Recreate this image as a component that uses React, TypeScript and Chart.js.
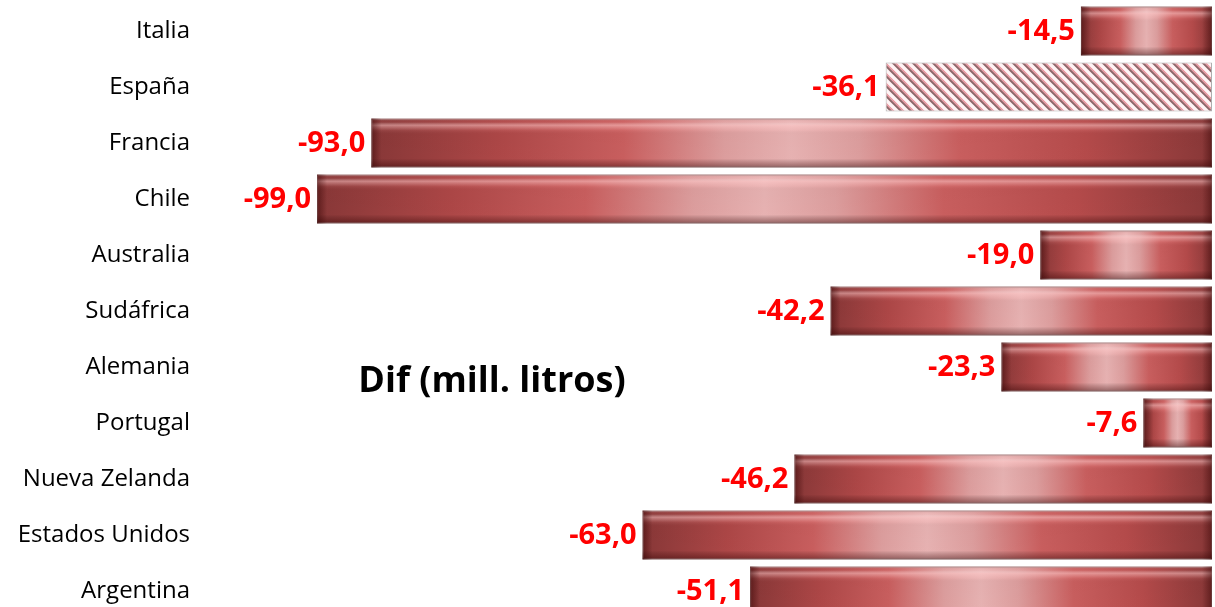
import React, { useEffect, useRef } from "react";
import { Chart, registerables } from "chart.js";

Chart.register(...registerables);

const categories = [
  "Italia",
  "España",
  "Francia",
  "Chile",
  "Australia",
  "Sudáfrica",
  "Alemania",
  "Portugal",
  "Nueva Zelanda",
  "Estados Unidos",
  "Argentina",
];
const values = [-14.5, -36.1, -93.0, -99.0, -19.0, -42.2, -23.3, -7.6, -46.2, -63.0, -51.1];
const hatchedIndex = [1];
const chartTitle = "Dif (mill. litros)";

const fmt = (v: number) => v.toFixed(1).replace(".", ",");

function makeHatch(): CanvasPattern | string {
  const c = document.createElement("canvas");
  const s = 10;
  c.width = s;
  c.height = s;
  const g = c.getContext("2d")!;
  g.fillStyle = "#fff4f5";
  g.fillRect(0, 0, s, s);
  g.lineWidth = 2;
  g.strokeStyle = "#8f6668";
  for (let k = -1; k <= 1; k++) {
    g.beginPath();
    g.moveTo(k * s - 1, -1);
    g.lineTo(k * s + s + 1, s + 1);
    g.stroke();
  }
  g.lineWidth = 1.4;
  g.strokeStyle = "#e8909a";
  for (let k = -1; k <= 1; k++) {
    g.beginPath();
    g.moveTo(k * s - 1 + 2.6, -1);
    g.lineTo(k * s + s + 1 + 2.6, s + 1);
    g.stroke();
  }
  const p = g.createPattern(c, "repeat");
  return p || "#f0c0c8";
}

export default function App() {
  const ref = useRef<HTMLCanvasElement | null>(null);

  useEffect(() => {
    document.body.style.margin = "0";
    const canvas = ref.current!;
    const hatch = makeHatch();

    const bevelPlugin = {
      id: "bevel",
      afterDatasetsDraw(chart: any) {
        const ctx = chart.ctx as CanvasRenderingContext2D;
        const meta = chart.getDatasetMeta(0);
        meta.data.forEach((el: any, i: number) => {
          const left = Math.min(el.x, el.base);
          const right = Math.max(el.x, el.base);
          const top = el.y - el.height / 2;
          const h = el.height;
          ctx.save();
          if (!hatchedIndex.includes(i)) {
            const vg = ctx.createLinearGradient(0, top, 0, top + h);
            vg.addColorStop(0, "rgba(90,20,20,0.3)");
            vg.addColorStop(0.07, "rgba(255,255,255,0.0)");
            vg.addColorStop(0.14, "rgba(255,205,205,0.5)");
            vg.addColorStop(0.24, "rgba(255,200,200,0.08)");
            vg.addColorStop(0.32, "rgba(0,0,0,0.03)");
            vg.addColorStop(0.82, "rgba(0,0,0,0.02)");
            vg.addColorStop(0.9, "rgba(40,0,0,0.22)");
            vg.addColorStop(1, "rgba(40,0,0,0.45)");
            ctx.fillStyle = vg;
            ctx.fillRect(left, top, right - left, h);
            const edge = Math.min(10, (right - left) / 4);
            const lg = ctx.createLinearGradient(left, 0, left + edge, 0);
            lg.addColorStop(0, "rgba(50,0,0,0.5)");
            lg.addColorStop(1, "rgba(50,0,0,0)");
            ctx.fillStyle = lg;
            ctx.fillRect(left, top, edge, h);
            const rg = ctx.createLinearGradient(right - edge, 0, right, 0);
            rg.addColorStop(0, "rgba(50,0,0,0)");
            rg.addColorStop(1, "rgba(50,0,0,0.45)");
            ctx.fillStyle = rg;
            ctx.fillRect(right - edge, top, edge, h);
          }
          ctx.restore();
        });
      },
    };

    const labelPlugin = {
      id: "valueLabels",
      afterDatasetsDraw(chart: any) {
        const ctx = chart.ctx as CanvasRenderingContext2D;
        const meta = chart.getDatasetMeta(0);
        ctx.save();
        ctx.font = "bold 29px 'Open Sans', sans-serif";
        ctx.fillStyle = "#ff0000";
        ctx.textAlign = "right";
        ctx.textBaseline = "middle";
        meta.data.forEach((el: any, i: number) => {
          const left = Math.min(el.x, el.base);
          ctx.fillText(fmt(values[i]), left - 6, el.y + 1);
        });
        ctx.font = "bold 36px 'Open Sans', sans-serif";
        ctx.fillStyle = "#000000";
        ctx.textAlign = "center";
        const yEl = meta.data[6];
        ctx.fillText(chartTitle, 492, yEl.y + 15);
        ctx.restore();
      },
    };

    const chart = new Chart(canvas, {
      type: "bar",
      data: {
        labels: categories,
        datasets: [
          {
            data: values,
            barPercentage: 0.875,
            categoryPercentage: 1,
            borderWidth: 1,
            borderColor: (c: any) =>
              hatchedIndex.includes(c.dataIndex) ? "rgba(120,120,120,0.6)" : "rgba(110,40,40,0.7)",
            borderSkipped: false,
            backgroundColor: (c: any) => {
              if (hatchedIndex.includes(c.dataIndex)) return hatch;
              const chartI = c.chart;
              const xs = chartI.scales && chartI.scales.x;
              if (!xs) return "#c05050";
              const v = values[c.dataIndex];
              const x0 = xs.getPixelForValue(v);
              const x1 = xs.getPixelForValue(0);
              if (!isFinite(x0) || !isFinite(x1) || x0 === x1) return "#c05050";
              const g = chartI.ctx.createLinearGradient(x0, 0, x1, 0);
              g.addColorStop(0, "#8a3838");
              g.addColorStop(0.15, "#b04848");
              g.addColorStop(0.3, "#cc6060");
              g.addColorStop(0.42, "#e0a0a0");
              g.addColorStop(0.5, "#ebb5b5");
              g.addColorStop(0.58, "#e0a0a0");
              g.addColorStop(0.7, "#cc6060");
              g.addColorStop(0.85, "#b84c4c");
              g.addColorStop(1, "#8a3838");
              return g;
            },
          },
        ],
      },
      options: {
        indexAxis: "y",
        animation: false,
        responsive: false,
        devicePixelRatio: 1,
        layout: { padding: { top: 3, bottom: 3, right: 3, left: 0 } },
        plugins: {
          legend: { display: false },
          tooltip: { enabled: false },
          title: { display: false },
        },
        scales: {
          x: {
            type: "linear",
            min: -100,
            max: 0,
            display: false,
          },
          y: {
            type: "category",
            grid: { display: false, drawTicks: false },
            border: { display: false },
            ticks: {
              color: "#000000",
              font: { family: "'Open Sans', sans-serif", size: 24 },
              padding: 118,
            },
            afterFit: (scale: any) => {
              scale.width = 308;
              scale.paddingTop = 0;
              scale.paddingBottom = 0;
            },
          },
        },
      } as any,
      plugins: [bevelPlugin, labelPlugin],
    });

    return () => {
      chart.destroy();
    };
  }, []);

  return (
    <div style={{ width: 1215, height: 607, overflow: "hidden", position: "relative" }}>
      <canvas ref={ref} width={1215} height={622} style={{ display: "block" }} />
    </div>
  );
}
